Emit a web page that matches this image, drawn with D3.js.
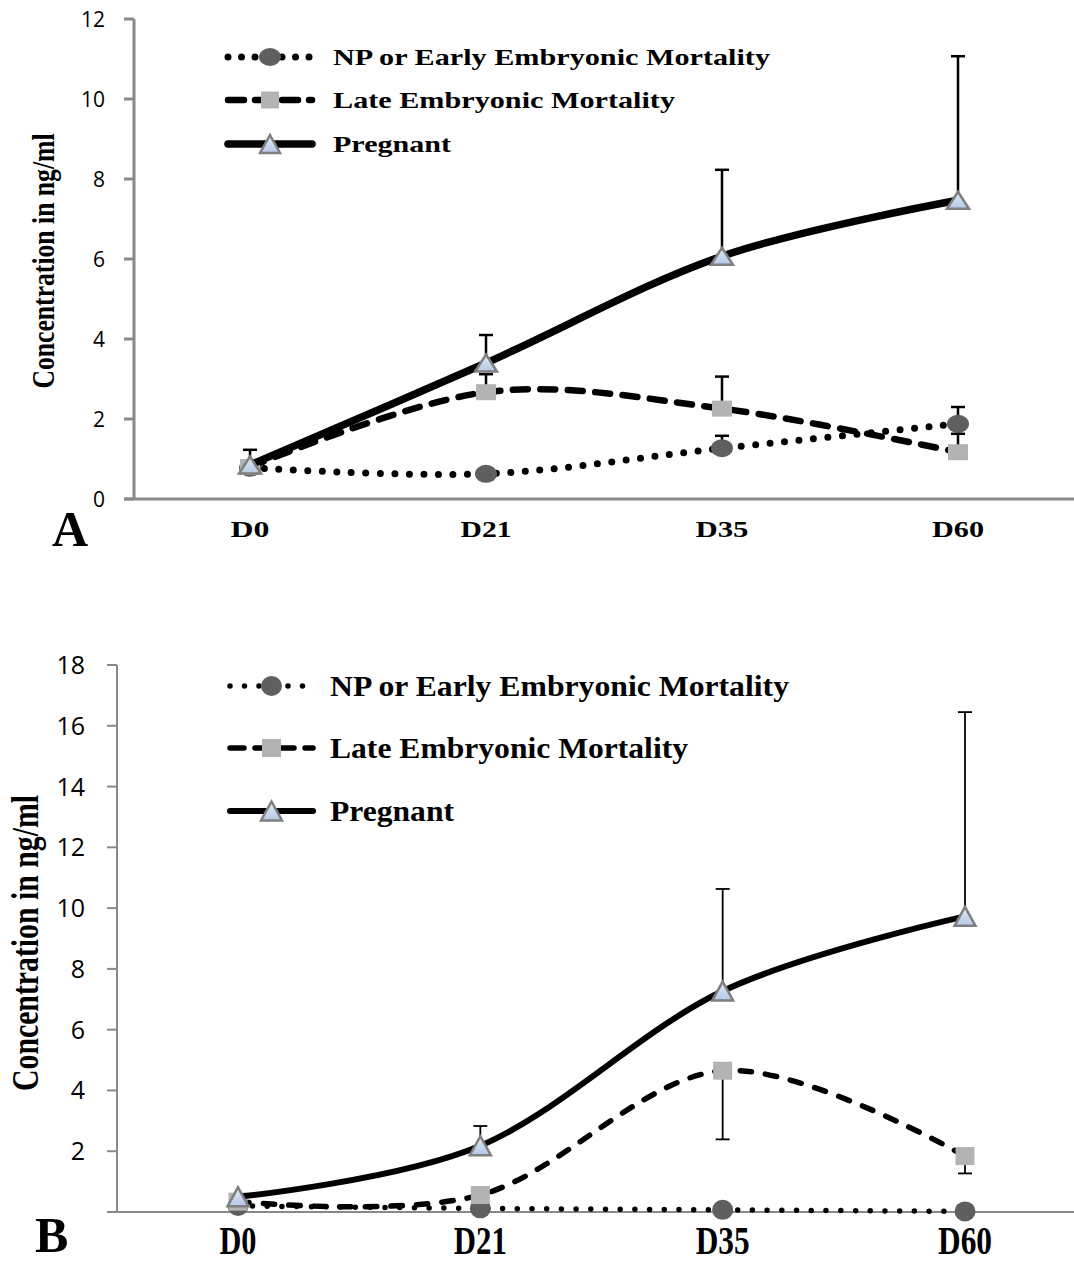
<!DOCTYPE html>
<head>
  <meta charset="utf-8" />
  <script src="https://d3js.org/d3.v7.min.js"></script>
  <style>
    body { margin: 0; background: #fff; }
    .serif { font-family: "Liberation Serif", "DejaVu Serif", serif; font-weight: bold; }
    .tick { font-family: "Open Sans", "Noto Sans", sans-serif; fill: #000; }
  </style>
</head>

<body>
  <div id="chart"></div>

  <script>
    // categories (jours)
    const days = ["D0", "D21", "D35", "D60"];
    const seriesNames = ["NP or Early Embryonic Mortality", "Late Embryonic Mortality", "Pregnant"];

    // panneau A
    const npA = [0.78, 0.63, 1.27, 1.88];
    const lateA = [0.80, 2.67, 2.26, 1.17];
    const pregA = [0.85, 3.40, 6.07, 7.47];
    // extrémité des barres d'erreur (null = pas visible)
    const npAErr = [null, null, 1.58, 2.30];
    const lateAErr = [null, 3.12, 3.06, 1.63];
    const pregAErr = [1.23, 4.10, 8.23, 11.07];
    const ticksA = [0, 2, 4, 6, 8, 10, 12];

    // panneau B
    const npB = [0.20, 0.12, 0.07, 0.02];
    const lateB = [0.34, 0.56, 4.65, 1.84];
    const pregB = [0.50, 2.18, 7.27, 9.73];
    const npBErr = [null, null, null, null];
    const lateBErr = [null, null, 2.39, 1.27];
    const pregBErr = [null, 2.83, 10.63, 16.45];
    const ticksB = [2, 4, 6, 8, 10, 12, 14, 16, 18];

    const width = 1074, height = 1266;

    const svg = d3.select("#chart")
      .append("svg")
      .attr("width", width)
      .attr("height", height);

    const grad = svg.append("defs").append("linearGradient")
      .attr("id", "triFill").attr("x1", 0).attr("y1", 0).attr("x2", 0).attr("y2", 1);
    grad.append("stop").attr("offset", "0%").attr("stop-color", "#e2ebf8");
    grad.append("stop").attr("offset", "100%").attr("stop-color", "#b4c8e6");

    function drawPanel(p) {
      const g = svg.append("g");

      const x = d3.scalePoint().domain(days).range(p.xRange);
      const y = d3.scaleLinear().domain([0, p.yMax]).range(p.yRange);

      // axes
      g.append("line")
        .attr("x1", p.axisX).attr("x2", p.axisX)
        .attr("y1", y(p.yMax)).attr("y2", y(0))
        .style("stroke", "#898989").style("stroke-width", p.axisW);
      g.append("line")
        .attr("x1", p.axisX - 10).attr("x2", width)
        .attr("y1", y(0)).attr("y2", y(0))
        .style("stroke", "#898989").style("stroke-width", p.axisW);

      g.selectAll(".ytick")
        .data(p.ticks)
        .join("line")
        .attr("x1", p.axisX - 10).attr("x2", p.axisX)
        .attr("y1", d => y(d)).attr("y2", d => y(d))
        .style("stroke", "#898989").style("stroke-width", p.axisW);

      g.selectAll(".ylab")
        .data(p.ticks)
        .join("text")
        .attr("class", "tick")
        .attr("x", p.labelX)
        .attr("y", d => y(d))
        .attr("dy", "0.36em")
        .attr("text-anchor", "end")
        .style("font-size", p.tickSize + "px")
        .text(d => d);

      g.selectAll(".xlab")
        .data(days)
        .join("text")
        .attr("class", "serif")
        .attr("x", d => x(d))
        .attr("y", p.xLabY)
        .attr("text-anchor", "middle")
        .attr("textLength", (d, i) => p.xLabW[i])
        .attr("lengthAdjust", "spacingAndGlyphs")
        .style("font-size", p.xLabSize + "px")
        .text(d => d);

      // titre de l'axe y
      g.append("text")
        .attr("class", "serif")
        .attr("transform", "translate(" + p.titleX + "," + p.titleY + ") rotate(-90)")
        .attr("text-anchor", "middle")
        .attr("textLength", p.titleLen)
        .attr("lengthAdjust", "spacingAndGlyphs")
        .style("font-size", p.titleSize + "px")
        .text("Concentration in ng/ml");

      // lettre du panneau
      g.append("text")
        .attr("class", "serif")
        .attr("x", p.letterX).attr("y", p.letterY)
        .style("font-size", p.letterSize + "px")
        .text(p.letter);

      const series = [
        { vals: p.np, err: p.npErr, style: p.styles[0], marker: "circle" },
        { vals: p.late, err: p.lateErr, style: p.styles[1], marker: "square" },
        { vals: p.preg, err: p.pregErr, style: p.styles[2], marker: "triangle" }
      ];

      const line = d3.line()
        .x((d, i) => x(days[i]))
        .y(d => y(d))
        .curve(d3.curveCardinal.tension(0));

      function marker(sel, type, cx, cy, m) {
        if (type === "circle") {
          sel.append("ellipse")
            .attr("cx", cx).attr("cy", cy)
            .attr("rx", m.cw / 2).attr("ry", m.ch / 2)
            .style("fill", "#5f5f5f");
        } else if (type === "square") {
          sel.append("rect")
            .attr("x", cx - m.sw / 2).attr("y", cy - m.sh / 2)
            .attr("width", m.sw).attr("height", m.sh)
            .style("fill", "#b3b3b3");
        } else {
          const w = m.tw, h = m.th;
          sel.append("path")
            .attr("d", "M" + cx + "," + (cy - h / 2) + "L" + (cx + w / 2) + "," + (cy + h / 2) + "L" + (cx - w / 2) + "," + (cy + h / 2) + "Z")
            .style("fill", "url(#triFill)")
            .style("stroke", "#7f7f7f")
            .style("stroke-width", 2.5)
            .style("stroke-linejoin", "miter");
        }
      }

      series.forEach(function (s) {
        const sg = g.append("g");
        // barres d'erreur
        s.vals.forEach(function (v, i) {
          const e = s.err[i];
          if (e === null) return;
          sg.append("line")
            .attr("x1", x(days[i])).attr("x2", x(days[i]))
            .attr("y1", y(v)).attr("y2", y(e))
            .style("stroke", "#000").style("stroke-width", p.errW);
          sg.append("line")
            .attr("x1", x(days[i]) - 7).attr("x2", x(days[i]) + 7)
            .attr("y1", y(e)).attr("y2", y(e))
            .style("stroke", "#000").style("stroke-width", p.errW);
        });
        sg.append("path")
          .datum(s.vals)
          .attr("d", line)
          .style("fill", "none")
          .style("stroke", "#000")
          .style("stroke-width", s.style.w)
          .style("stroke-dasharray", s.style.dash)
          .style("stroke-linecap", s.style.dash ? "round" : "butt");
        s.vals.forEach(function (v, i) {
          marker(sg, s.marker, x(days[i]), y(v), p.mk);
        });
      });

      // légende
      const leg = g.append("g");
      series.forEach(function (s, i) {
        const ly = p.legY[i];
        leg.append("line")
          .attr("x1", p.legX1).attr("x2", p.legX2)
          .attr("y1", ly).attr("y2", ly)
          .style("stroke", "#000")
          .style("stroke-width", s.style.w)
          .style("stroke-dasharray", s.style.legDash)
          .style("stroke-linecap", "round");
        marker(leg, s.marker, (p.legX1 + p.legX2) / 2, ly, p.legMk);
        leg.append("text")
          .attr("class", "serif")
          .attr("x", p.legTextX)
          .attr("y", ly + p.legTextDy)
          .attr("textLength", p.legTextW[i])
          .attr("lengthAdjust", "spacingAndGlyphs")
          .style("font-size", p.legSize + "px")
          .text(seriesNames[i]);
      });
    }

    drawPanel({
      letter: "A", letterX: 52, letterY: 546, letterSize: 50,
      xRange: [250, 958], yRange: [499, 19], yMax: 12, ticks: ticksA,
      axisX: 134, axisW: 3, labelX: 105, tickSize: 21,
      xLabY: 537, xLabSize: 24, xLabW: [39, 51, 53, 52],
      titleX: 54, titleY: 261, titleLen: 255, titleSize: 32,
      np: npA, late: lateA, preg: pregA,
      npErr: npAErr, lateErr: lateAErr, pregErr: pregAErr,
      errW: 2.5,
      styles: [
        { w: 7, dash: "0,14.5", legDash: "0,13.5" },
        { w: 6.5, dash: "15,12.5", legDash: "16,11" },
        { w: 7.5, dash: null, legDash: null }
      ],
      mk: { cw: 22, ch: 18, sw: 20, sh: 16, tw: 22, th: 17 },
      legMk: { cw: 22, ch: 18, sw: 18, sh: 17, tw: 20, th: 18 },
      legY: [57, 100, 144], legX1: 228, legX2: 312,
      legTextX: 333, legTextDy: 8, legTextW: [437, 342, 118], legSize: 23
    });

    drawPanel({
      letter: "B", letterX: 35, letterY: 1252, letterSize: 50,
      xRange: [238, 965], yRange: [1212, 665], yMax: 18, ticks: ticksB,
      axisX: 117, axisW: 2, labelX: 85, tickSize: 25,
      xLabY: 1254, xLabSize: 40, xLabW: [37, 53, 54, 54],
      titleX: 38, titleY: 943, titleLen: 296, titleSize: 38,
      np: npB, late: lateB, preg: pregB,
      npErr: npBErr, lateErr: lateBErr, pregErr: pregBErr,
      errW: 1.8,
      styles: [
        { w: 5.5, dash: "0,14.7", legDash: "0,14.5" },
        { w: 5.5, dash: "11.5,14", legDash: "14,11" },
        { w: 6, dash: null, legDash: null }
      ],
      mk: { cw: 21, ch: 20, sw: 19, sh: 18, tw: 21, th: 19 },
      legMk: { cw: 21, ch: 20, sw: 19, sh: 18, tw: 21, th: 19 },
      legY: [686, 748, 811], legX1: 230, legX2: 313,
      legTextX: 330, legTextDy: 10, legTextW: [459, 358, 124], legSize: 30
    });
  </script>
</body>
